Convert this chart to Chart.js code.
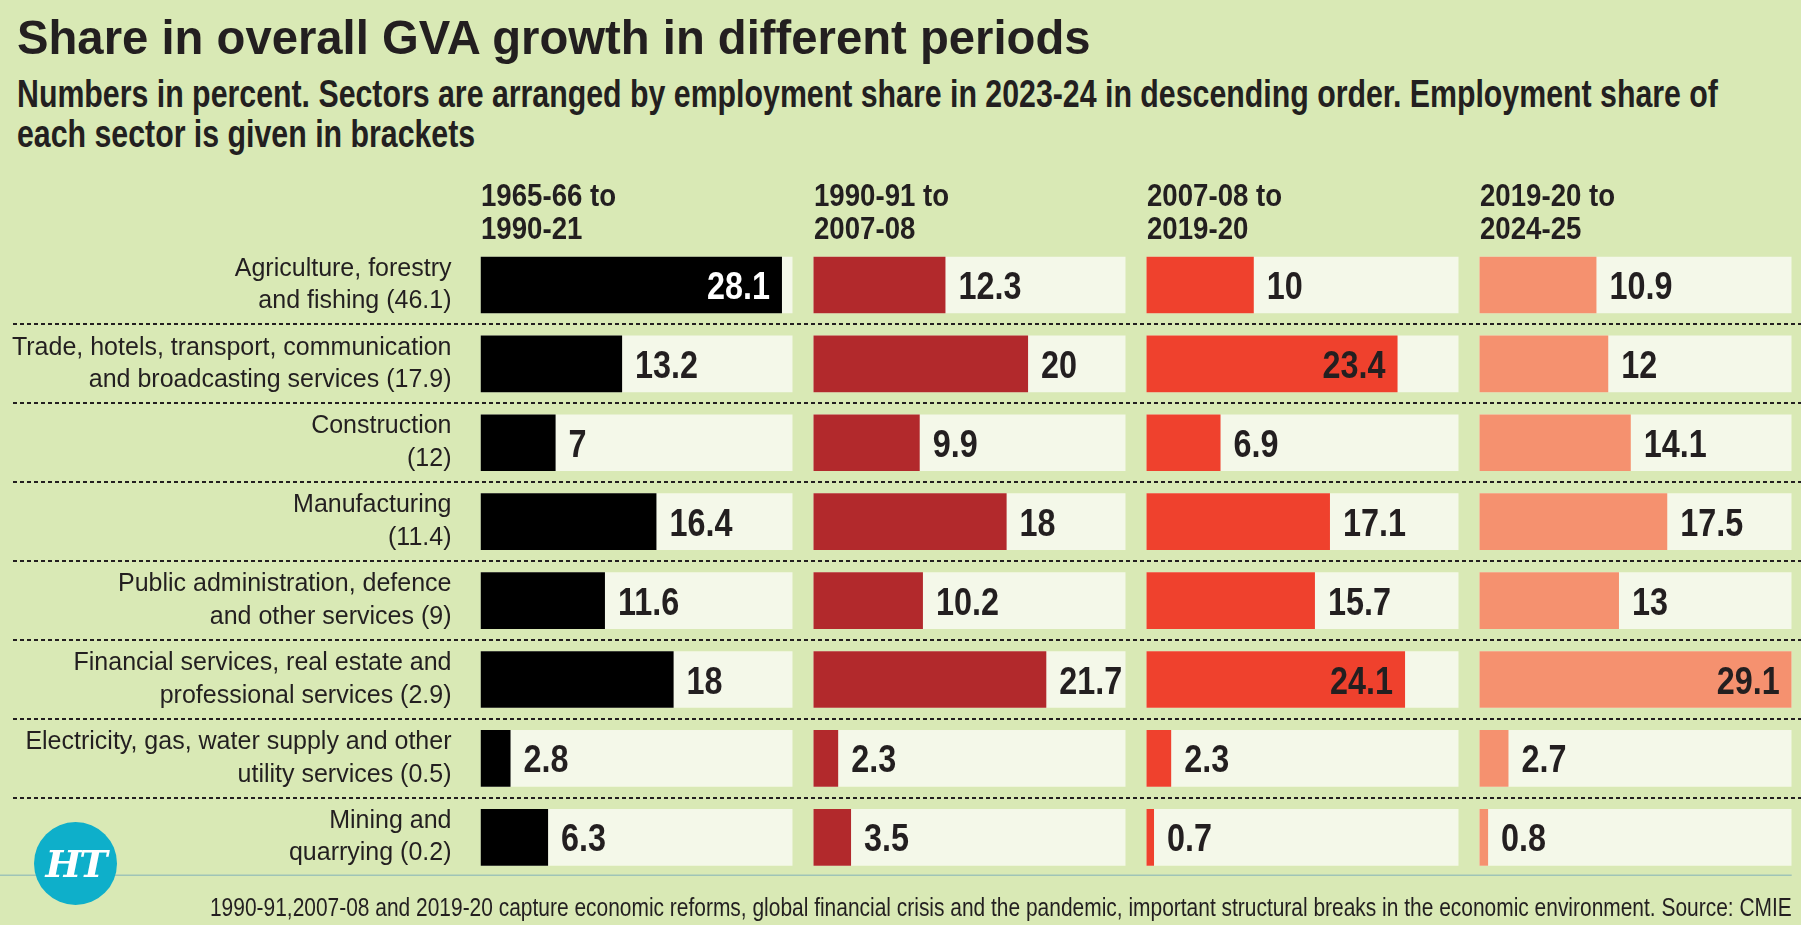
<!DOCTYPE html>
<html>
<head>
<meta charset="utf-8">
<title>Share in overall GVA growth in different periods</title>
<script src="https://cdn.jsdelivr.net/npm/chart.js"></script>
<style>
  html, body { margin: 0; padding: 0; }
  body {
    width: 1801px; height: 925px; position: relative; overflow: hidden;
    background: #d9e9b5; color: #231f20;
  }
  .txt { position: absolute; white-space: nowrap; transform-origin: left top; }
  #title { left: 17px; top: 12.5px; font: bold 49px/49px 'Liberation Sans', Arial, sans-serif; }
  #subtitle { left: 17px; top: 74px; font: bold 38px/40px 'Liberation Sans', Arial, sans-serif; }
  .period { top: 179px; font: bold 31.5px/33px 'Liberation Sans', Arial, sans-serif; }
  #note { right: 9.5px; top: 893.5px; font: 26.5px/26.5px 'Liberation Sans', Arial, sans-serif; transform-origin: right top; }
  #chart { position: absolute; left: 0; top: 0; }
  #logo {
    position: absolute; left: 34px; top: 822px; width: 83px; height: 83px; border-radius: 50%;
    background: #0eafca; color: #fff; text-align: center;
    font: bold italic 38px/83px 'DejaVu Serif', serif; letter-spacing: -2px;
  }
</style>
</head>
<body>
<div id="title" class="txt">Share in overall GVA growth in different periods</div>
<div id="subtitle" class="txt">Numbers in percent. Sectors are arranged by employment share in 2023-24 in descending order. Employment share of<br>each sector is given in brackets</div>
<canvas id="chart" width="1801" height="925"></canvas>
<div id="note" class="txt">1990-91,2007-08 and 2019-20 capture economic reforms, global financial crisis and the pandemic, important structural breaks in the economic environment. Source: CMIE</div>
<div id="logo">HT</div>

<script>
// sectors, ordered by employment share 2023-24 (share in brackets)
const sectors = [
    ['Agriculture, forestry', 'and fishing (46.1)'],
    ['Trade, hotels, transport, communication', 'and broadcasting services (17.9)'],
    ['Construction', '(12)'],
    ['Manufacturing', '(11.4)'],
    ['Public administration, defence', 'and other services (9)'],
    ['Financial services, real estate and', 'professional services (2.9)'],
    ['Electricity, gas, water supply and other', 'utility services (0.5)'],
    ['Mining and', 'quarrying (0.2)']
];

const periods = [
    ['1965-66 to', '1990-21'],
    ['1990-91 to', '2007-08'],
    ['2007-08 to', '2019-20'],
    ['2019-20 to', '2024-25']
];

// share in overall GVA growth, percent
const share6690 = [28.1, 13.2, 7, 16.4, 11.6, 18, 2.8, 6.3];
const share9108 = [12.3, 20, 9.9, 18, 10.2, 21.7, 2.3, 3.5];
const share0820 = [10, 23.4, 6.9, 17.1, 15.7, 24.1, 2.3, 0.7];
const share2025 = [10.9, 12, 14.1, 17.5, 13, 29.1, 2.7, 0.8];

const barColors = ['#000000', '#b2292c', '#ef412d', '#f5916f'];
const trackColor = '#f4f8e9';
const ink = '#231f20';

const series = [share6690, share9108, share0820, share2025];
const maxShare = Math.max(...series.flat());
const gap = 1.94; // space between the columns, in axis units

// no condensed face installed: squeeze the text horizontally instead
function squeeze(el, width) {
    el.style.transform = 'scaleX(' + (width / el.offsetWidth) + ')';
}
squeeze(document.getElementById('title'), 1074);
squeeze(document.getElementById('subtitle'), 1701);
squeeze(document.getElementById('note'), 1582);

// one x axis per period, laid side by side
const scales = {
    y: {
        type: 'category',
        labels: sectors,
        grid: { display: false, drawTicks: false },
        border: { display: false },
        ticks: {
            color: ink,
            padding: 29,
            autoSkip: false,
            font: { family: "'Liberation Sans', Arial, sans-serif", size: 25, lineHeight: 1.3 }
        },
        afterFit: function(scale) {
            scale.width = 480.5;
            scale.paddingTop = 0;
            scale.paddingBottom = 0;
        }
    }
};
series.forEach((vals, c) => {
    scales['x' + c] = {
        type: 'linear',
        position: 'bottom',
        stack: 'periods',
        stackWeight: c === 0 ? maxShare : maxShare + gap,
        min: c === 0 ? 0 : -gap,
        max: maxShare,
        display: false
    };
});

const datasets = [];
series.forEach((vals, c) => {
    datasets.push({
        data: vals,
        xAxisID: 'x' + c,
        backgroundColor: barColors[c],
        order: 0
    });
});
series.forEach((vals, c) => {
    datasets.push({
        data: vals.map(() => maxShare),
        xAxisID: 'x' + c,
        backgroundColor: trackColor,
        order: 1
    });
});

// dotted separators between rows, and the rule at the bottom
const rowLines = {
    id: 'rowLines',
    beforeDatasetsDraw(chart) {
        const { ctx, chartArea, scales: { y } } = chart;
        const band = y.getPixelForValue(1) - y.getPixelForValue(0);
        ctx.save();
        ctx.strokeStyle = ink;
        ctx.lineWidth = 2;
        ctx.setLineDash([4, 3]);
        for (let i = 0; i < sectors.length - 1; i++) {
            const yy = Math.round(y.getPixelForValue(i) + band / 2);
            ctx.beginPath();
            ctx.moveTo(13, yy);
            ctx.lineTo(chart.width, yy);
            ctx.stroke();
        }
        ctx.setLineDash([]);
        ctx.strokeStyle = '#9fc4b7';
        ctx.lineWidth = 1.5;
        ctx.beginPath();
        ctx.moveTo(0, chartArea.bottom - 1.5);
        ctx.lineTo(chartArea.right, chartArea.bottom - 1.5);
        ctx.stroke();
        ctx.restore();
    }
};

// numbers next to (or inside) each bar, in a narrowed bold face
const valueLabels = {
    id: 'valueLabels',
    afterDatasetsDraw(chart) {
        const ctx = chart.ctx;
        ctx.save();
        ctx.font = "bold 39.5px 'Liberation Sans', Arial, sans-serif";
        ctx.textBaseline = 'alphabetic';
        ctx.textAlign = 'left';
        const k = 63 / ctx.measureText('12.3').width;
        series.forEach((vals, c) => {
            const meta = chart.getDatasetMeta(c);
            const end = chart.scales['x' + c].getPixelForValue(maxShare);
            meta.data.forEach((bar, i) => {
                const text = String(vals[i]);
                const w = ctx.measureText(text).width * k;
                let x = bar.x + 13;
                ctx.fillStyle = ink;
                if (x + w > end + 2) {
                    x = bar.x - 12 - w;
                    if (c === 0) ctx.fillStyle = '#ffffff';
                }
                ctx.save();
                ctx.translate(x, bar.y + 14);
                ctx.scale(k, 1);
                ctx.fillText(text, 0, 0);
                ctx.restore();
            });
        });
        ctx.restore();
    }
};

const chart = new Chart(document.getElementById('chart'), {
    type: 'bar',
    data: { labels: sectors, datasets: datasets },
    options: {
        indexAxis: 'y',
        responsive: false,
        devicePixelRatio: 1,
        animation: false,
        events: [],
        layout: { padding: { left: 0, top: 245.5, right: 9.3, bottom: 48.2 } },
        datasets: { bar: { grouped: false, barPercentage: 0.718, categoryPercentage: 1 } },
        plugins: { legend: { display: false }, tooltip: { enabled: false } },
        scales: scales
    },
    plugins: [rowLines, valueLabels]
});

// period headings, lined up with the start of each column
let headK = 0;
periods.forEach((lines, c) => {
    const div = document.createElement('div');
    div.className = 'txt period';
    div.style.left = chart.scales['x' + c].getPixelForValue(0) + 'px';
    div.innerHTML = lines.join('<br>');
    document.body.appendChild(div);
    if (c === 0) headK = 135 / div.offsetWidth;
    div.style.transform = 'scaleX(' + headK + ')';
});
</script>
</body>
</html>
